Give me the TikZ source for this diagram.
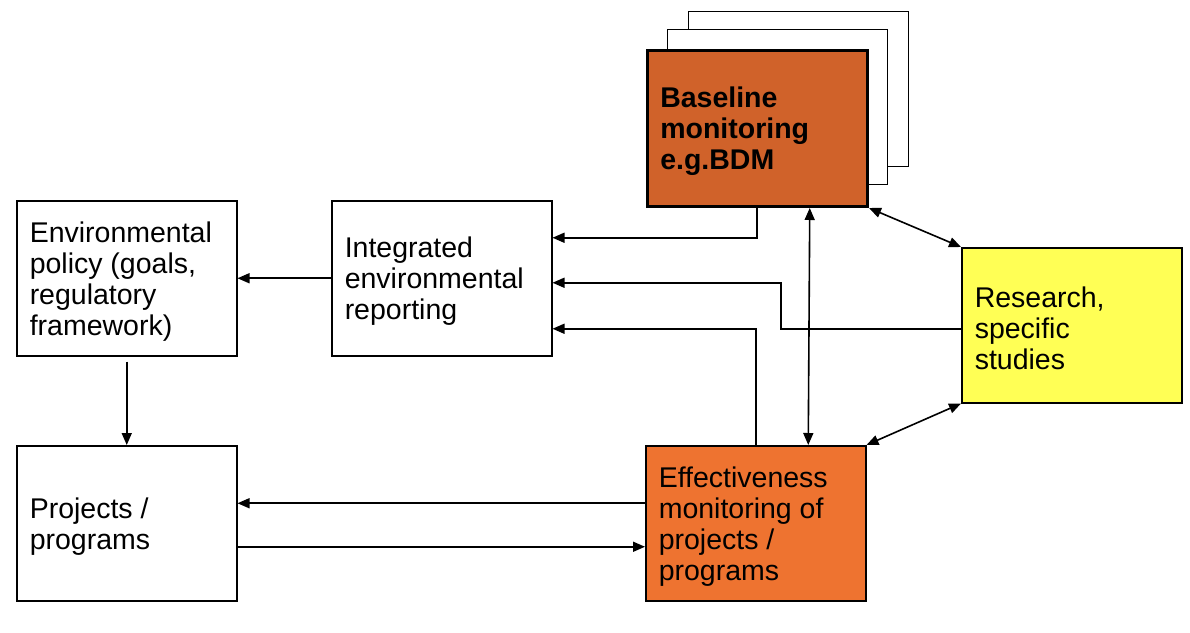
\documentclass[tikz,border=0pt]{standalone}
\usepackage{fontspec}
\setmainfont{Liberation Sans}
\usetikzlibrary{arrows.meta}
\definecolor{baseorange}{RGB}{208,98,42}
\definecolor{efforange}{RGB}{238,115,48}
\definecolor{resyellow}{RGB}{255,255,85}
\newcommand\boxtext[1]{\raisebox{-3pt}[\height][\depth]{\parbox{194pt}{\raggedright #1}}}
\tikzset{
  box/.style={draw, line width=1.5pt, fill=white, anchor=north west,
    minimum width=220pt, minimum height=155pt,
    inner xsep=13pt, inner ysep=0pt,
    font=\fontsize{28.5}{31}\selectfont},
  backframe/.style={draw, line width=1.2pt, fill=white, anchor=north west,
    minimum width=220pt, minimum height=155pt, inner sep=0pt},
  conn/.style={line width=1.6pt, -{Triangle[length=12pt,width=10pt]}},
  dconn/.style={line width=1.6pt, {Triangle[length=12pt,width=10pt]}-{Triangle[length=12pt,width=10pt]}}
}
\begin{document}
\begin{tikzpicture}[x=1pt,y=-1pt]
\useasboundingbox (0,0) rectangle (1190,632);
\fill[white] (0,0) rectangle (1190,632);
% stacked frames behind baseline box
\node[backframe] (back2) at (688,11) {};
\node[backframe] (back1) at (667,29) {};
\node[box, line width=3.5pt, fill=baseorange, minimum width=219pt, minimum height=156pt, font=\fontsize{28.5}{31}\selectfont\bfseries] (base) at (645.5,48.5) {\boxtext{Baseline\\monitoring\\e.g.BDM}};
\node[box] (env) at (16,200) {\boxtext{Environmental\\policy (goals,\\regulatory\\framework)}};
\node[box] (integ) at (331,200) {\boxtext{Integrated\\environmental\\reporting}};
\node[box, fill=resyellow] (res) at (961,247) {\boxtext{Research,\\specific\\studies}};
\node[box] (proj) at (16,445) {\boxtext{Projects /\\programs}};
\node[box, fill=efforange] (eff) at (645,445) {\boxtext{Effectiveness\\monitoring of\\projects /\\programs}};
% connectors
\draw[conn] (base.south) |- ([yshift=40.5pt]integ.east);
\draw[conn] ([yshift=-3.5pt]res.west) -| ([xshift=-180pt,yshift=-4.5pt]res.west |- integ.east) -- ([yshift=-4.5pt]integ.east);
\draw[conn] (eff.north) |- ([yshift=-50.5pt]integ.east);
\draw[dconn] ([xshift=52.5pt]base.south) -- ([xshift=52.5pt]eff.north);
\draw[dconn] (base.south east) -- (res.north west);
\draw[dconn] (eff.north east) -- (res.south west);
\draw[conn] (integ.west) -- (env.east);
\draw[conn] ([yshift=-5pt]env.south) -- (proj.north);
\draw[conn] ([yshift=20pt]eff.west) -- ([yshift=20pt]proj.east);
\draw[conn] ([yshift=-23.5pt]proj.east) -- ([yshift=-23.5pt]eff.west);
\end{tikzpicture}
\end{document}
